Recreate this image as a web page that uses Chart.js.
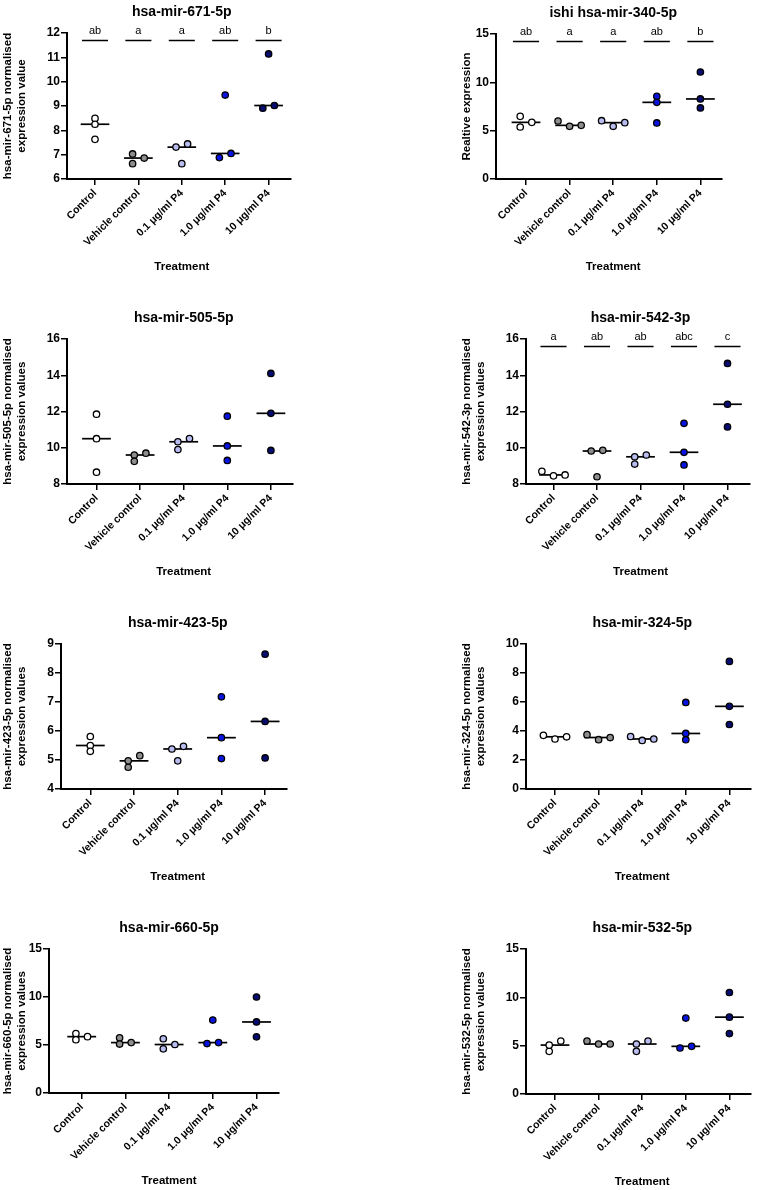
<!DOCTYPE html>
<html>
<head>
<meta charset="utf-8">
<script src="https://cdn.jsdelivr.net/npm/chart.js@4.4.1/dist/chart.umd.min.js"></script>
<style>
  html, body { margin: 0; padding: 0; background: #fff; }
  body { position: relative; width: 766px; height: 1190px; overflow: hidden; }
  .panel { position: absolute; width: 383px; height: 274px; }
</style>
</head>
<body>
<script>
// groups on the x axis
const categories = ['Control', 'Vehicle control', '0.1 μg/ml P4', '1.0 μg/ml P4', '10 μg/ml P4']
const groupFill = ['#ffffff', '#8e8e8e', '#b8bcee', '#0a14e0', '#080c70']

// three replicates per group
const mir671 = [[8.49, 8.25, 7.63], [7.03, 6.86, 6.63], [7.44, 7.31, 6.63], [9.45, 7.05, 6.88], [11.14, 9.02, 8.91]]
const mir340 = [[6.48, 5.38, 5.86], [5.45, 6.0, 5.55], [5.45, 6.03, 5.83], [8.55, 7.93, 5.8], [11.07, 8.28, 7.35]]
const mir505 = [[11.85, 10.5, 8.65], [9.6, 9.25, 9.7], [10.33, 10.51, 9.9], [11.74, 10.1, 9.3], [14.1, 11.9, 9.85]]
const mir542 = [[8.45, 8.7, 8.5], [9.82, 9.86, 8.4], [9.5, 9.6, 9.1], [11.35, 9.75, 9.05], [14.65, 12.4, 11.15]]
const mir423 = [[5.81, 5.5, 5.3], [4.75, 4.97, 5.15], [5.38, 5.47, 4.97], [7.18, 5.77, 5.05], [8.65, 6.33, 5.07]]
const mir324 = [[3.45, 3.7, 3.6], [3.75, 3.4, 3.55], [3.35, 3.62, 3.45], [5.97, 3.83, 3.4], [8.8, 5.7, 4.45]]
const mir660 = [[6.2, 5.55, 5.87], [5.75, 5.1, 5.25], [5.65, 4.6, 5.05], [7.6, 5.15, 5.25], [10.0, 7.4, 5.85]]
const mir532 = [[5.48, 4.41, 5.06], [5.17, 5.48, 5.17], [5.17, 5.48, 4.41], [7.85, 4.76, 4.93], [10.5, 7.95, 6.25]]

// significance letters
const letters671 = ['ab', 'a', 'a', 'ab', 'b']
const letters340 = ['ab', 'a', 'a', 'ab', 'b']
const letters542 = ['a', 'ab', 'ab', 'abc', 'c']

const FONT = "'Liberation Sans', Arial, sans-serif"
Chart.defaults.font.family = FONT
Chart.defaults.color = '#000'

const panels = [
  { title: 'hsa-mir-671-5p', yTitle: ['hsa-mir-671-5p normalised', 'expression value'], values: mir671, letters: letters671,
    yMin: 6, yMax: 12, yStep: 1, col: 0, plotTop: 33, plotBottom: 179, axisLeft: 67, firstCat: 95, catGap: 43.4, yTitleAt: 8 },
  { title: 'ishi hsa-mir-340-5p', yTitle: 'Realtive expression', values: mir340, letters: letters340,
    yMin: 0, yMax: 15, yStep: 5, col: 1, plotTop: 34, plotBottom: 179, axisLeft: 496, firstCat: 526, catGap: 43.6, yTitleAt: 84 },
  { title: 'hsa-mir-505-5p', yTitle: ['hsa-mir-505-5p normalised', 'expression values'], values: mir505,
    yMin: 8, yMax: 16, yStep: 2, col: 0, plotTop: 339, plotBottom: 484, axisLeft: 67, firstCat: 96.5, catGap: 43.6, yTitleAt: 8 },
  { title: 'hsa-mir-542-3p', yTitle: ['hsa-mir-542-3p normalised', 'expression values'], values: mir542, letters: letters542,
    yMin: 8, yMax: 16, yStep: 2, col: 1, plotTop: 339, plotBottom: 484, axisLeft: 526, firstCat: 553.5, catGap: 43.5, yTitleAt: 84 },
  { title: 'hsa-mir-423-5p', yTitle: ['hsa-mir-423-5p normalised', 'expression values'], values: mir423,
    yMin: 4, yMax: 9, yStep: 1, col: 0, plotTop: 644, plotBottom: 789, axisLeft: 61, firstCat: 90.3, catGap: 43.7, yTitleAt: 8 },
  { title: 'hsa-mir-324-5p', yTitle: ['hsa-mir-324-5p normalised', 'expression values'], values: mir324,
    yMin: 0, yMax: 10, yStep: 2, col: 1, plotTop: 644, plotBottom: 789, axisLeft: 526, firstCat: 555, catGap: 43.6, yTitleAt: 84 },
  { title: 'hsa-mir-660-5p', yTitle: ['hsa-mir-660-5p normalised', 'expression values'], values: mir660,
    yMin: 0, yMax: 15, yStep: 5, col: 0, plotTop: 949, plotBottom: 1093, axisLeft: 49, firstCat: 81.7, catGap: 43.7, yTitleAt: 8 },
  { title: 'hsa-mir-532-5p', yTitle: ['hsa-mir-532-5p normalised', 'expression values'], values: mir532,
    yMin: 0, yMax: 15, yStep: 5, col: 1, plotTop: 949, plotBottom: 1094, axisLeft: 526, firstCat: 555, catGap: 43.6, yTitleAt: 84 }
]

const CANVAS_W = 383
const CANVAS_H = 274
const X_AXIS_H = 95

function median(vals) {
  const s = [...vals].sort((a, b) => a - b)
  const m = Math.floor(s.length / 2)
  return s.length % 2 ? s[m] : (s[m - 1] + s[m]) / 2
}

// spread overlapping points sideways, like a column scatter
function spreadColumns(vals, pxPerUnit) {
  const GAP = 5.7, LINK = 9
  const order = vals.map((v, i) => i).sort((a, b) => vals[a] - vals[b])
  const col = new Array(vals.length).fill(null)
  order.forEach(i => {
    for (const c of [0, 1, -1, 2, -2]) {
      const hit = order.some(j => col[j] === c && Math.abs(vals[i] - vals[j]) * pxPerUnit < GAP)
      if (!hit) { col[i] = c; break }
    }
  })
  const seen = new Array(vals.length).fill(false)
  order.forEach(i => {
    if (seen[i]) return
    const cluster = [i]
    seen[i] = true
    for (let k = 0; k < cluster.length; k++) {
      vals.forEach((v, j) => {
        if (!seen[j] && Math.abs(v - vals[cluster[k]]) * pxPerUnit < LINK) {
          seen[j] = true
          cluster.push(j)
        }
      })
    }
    const cs = cluster.map(j => col[j])
    const shift = (Math.min(...cs) + Math.max(...cs)) / 2
    cluster.forEach(j => { col[j] -= shift })
  })
  return col
}

function decorations(p) {
  return {
    id: 'decor',
    beforeDatasetsDraw(chart) {
      const { ctx, scales: { x, y } } = chart
      ctx.save()
      ctx.strokeStyle = '#000'
      ctx.lineWidth = 1.7
      p.values.forEach((vals, g) => {
        const yy = y.getPixelForValue(median(vals))
        ctx.beginPath()
        ctx.moveTo(x.getPixelForValue(g - 0.33), yy)
        ctx.lineTo(x.getPixelForValue(g + 0.33), yy)
        ctx.stroke()
      })
      ctx.restore()
    },
    afterDraw(chart) {
      const { ctx, chartArea, scales: { x } } = chart
      const mid = x.getPixelForValue(2)
      ctx.save()
      ctx.fillStyle = '#000'
      ctx.textAlign = 'center'
      ctx.textBaseline = 'middle'
      ctx.font = `bold 14px ${FONT}`
      ctx.fillText(p.title, mid, chartArea.top - 21)
      ctx.font = `bold 11.5px ${FONT}`
      ctx.fillText('Treatment', mid, chartArea.bottom + 88)
      if (p.letters) {
        ctx.font = `11px ${FONT}`
        ctx.strokeStyle = '#000'
        ctx.lineWidth = 1.5
        p.letters.forEach((txt, g) => {
          ctx.fillText(txt, x.getPixelForValue(g), chartArea.top - 2)
          const ly = chartArea.top + 7.5
          ctx.beginPath()
          ctx.moveTo(x.getPixelForValue(g - 0.3), ly)
          ctx.lineTo(x.getPixelForValue(g + 0.3), ly)
          ctx.stroke()
        })
      }
      ctx.restore()
    }
  }
}

function buildChart(p) {
  const colX = p.col * CANVAS_W
  const top = p.plotTop - 33
  const wrap = document.createElement('div')
  wrap.className = 'panel'
  wrap.style.left = colX + 'px'
  wrap.style.top = top + 'px'
  const canvas = document.createElement('canvas')
  canvas.width = CANVAS_W
  canvas.height = CANVAS_H
  wrap.appendChild(canvas)
  document.body.appendChild(wrap)

  const xMin = -(p.firstCat - p.axisLeft) / p.catGap
  const xMax = 4.5
  const plotRight = p.axisLeft + (xMax - xMin) * p.catGap
  const yAxisWidth = p.axisLeft - colX
  const padBottom = CANVAS_H - (p.plotBottom - top) - X_AXIS_H
  const pxPerUnit = (p.plotBottom - p.plotTop) / (p.yMax - p.yMin)
  const step = 11.6 / p.catGap

  const datasets = p.values.map((vals, g) => {
    const offs = spreadColumns(vals, pxPerUnit)
    return {
      data: vals.map((v, k) => ({ x: g + offs[k] * step, y: v })),
      backgroundColor: groupFill[g],
      borderColor: '#000',
      borderWidth: 1.3,
      pointRadius: 3.2,
      pointHoverRadius: 3.2
    }
  })

  const axisFont = { family: FONT, size: 12, weight: 'bold' }

  new Chart(canvas, {
    type: 'scatter',
    data: { datasets },
    options: {
      responsive: false,
      animation: false,
      events: [],
      layout: { padding: { left: 0, top: 33, right: CANVAS_W - (plotRight - colX), bottom: padBottom } },
      plugins: { legend: { display: false }, tooltip: { enabled: false } },
      scales: {
        x: {
          type: 'linear',
          min: xMin,
          max: xMax,
          afterBuildTicks: s => { s.ticks = categories.map((c, i) => ({ value: i })) },
          afterFit: s => { s.height = X_AXIS_H },
          border: { color: '#000', width: 2 },
          grid: { drawOnChartArea: false, color: '#000', lineWidth: 1.5, tickLength: 6 },
          ticks: {
            autoSkip: false, minRotation: 45, maxRotation: 45, padding: 2, color: '#000',
            font: { family: FONT, size: 10.5, weight: 'bold' },
            callback: v => categories[v]
          }
        },
        y: {
          min: p.yMin,
          max: p.yMax,
          afterFit: s => { s.width = yAxisWidth },
          border: { color: '#000', width: 2 },
          grid: { drawOnChartArea: false, color: '#000', lineWidth: 1.5, tickLength: 6 },
          ticks: { stepSize: p.yStep, padding: 1, color: '#000', font: axisFont },
          title: {
            display: true,
            text: p.yTitle,
            color: '#000',
            font: { family: FONT, size: 11.5, weight: 'bold' },
            padding: { top: p.yTitleAt - 6.9, bottom: 0 }
          }
        }
      }
    },
    plugins: [decorations(p)]
  })
}

panels.forEach(buildChart)
</script>
</body>
</html>
